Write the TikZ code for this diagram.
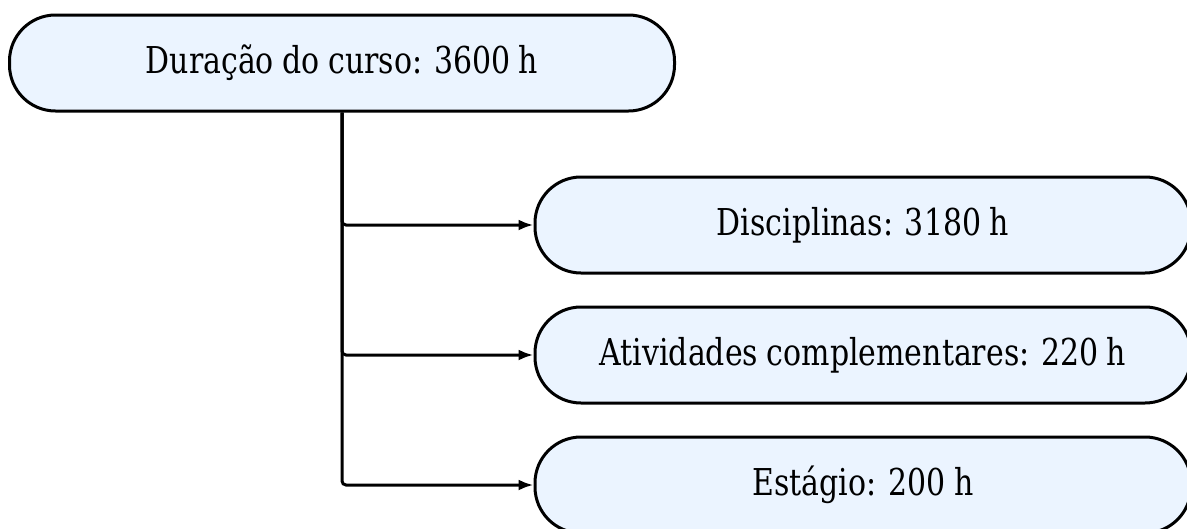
\documentclass[tikz,border=0pt]{standalone}
\usepackage{fontspec}
\setmainfont{DejaVu Serif}[FakeStretch=0.81,WordSpace=0.9]
\usetikzlibrary{arrows.meta}
\definecolor{boxfill}{HTML}{EBF4FF}
\begin{document}
\begin{tikzpicture}[x=1pt,y=1pt,
  box/.style={draw, line width=3pt, fill=boxfill, rounded corners=46pt,
    font=\fontsize{37}{44}\selectfont, minimum height=96pt, inner sep=0pt},
  conn/.style={line width=3pt, rounded corners=4pt, -{Latex[length=15pt,width=11pt]}}]
\useasboundingbox (0,0) rectangle (1187,-528);
\node[box, minimum width=665pt] (top) at (342,-63) {Duração do curso: 3600 h};
\node[box, minimum width=656pt] (d) at (863,-225) {Disciplinas: 3180 h};
\node[box, minimum width=656pt] (a) at (863,-355) {Atividades complementares: 220 h};
\node[box, minimum width=656pt] (e) at (863,-485) {Estágio: 200 h};
\draw[conn] (top.south) |- (d.west);
\draw[conn] (top.south) |- (a.west);
\draw[conn] (top.south) |- (e.west);
\end{tikzpicture}
\end{document}
